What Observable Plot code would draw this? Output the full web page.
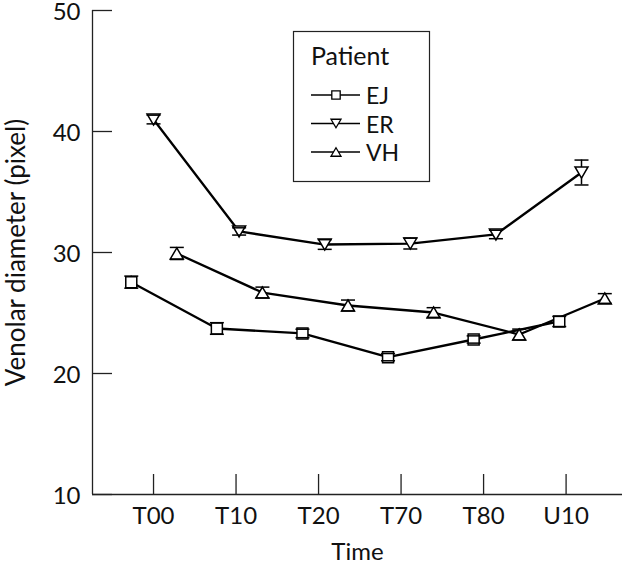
<!DOCTYPE html>
<html><head><meta charset="utf-8">
<script src="https://cdn.jsdelivr.net/npm/d3@7"></script>
<script src="https://cdn.jsdelivr.net/npm/@observablehq/plot@0.6"></script>
<style>
  body { margin: 0; background: #fff; }
  #chart { position: relative; width: 640px; height: 565px; }
  svg { display: block; }
</style>
</head><body><div id="chart"></div>
<script>
// ---- data ----
const categories = ["T00", "T10", "T20", "T70", "T80", "U10"];
const patients = ["EJ", "ER", "VH"];
const EJ = [27.55, 23.72, 23.31, 21.35, 22.81, 24.30];
const EJ_err = [0.5, 0.48, 0.35, 0.3, 0.3, 0.42];
const ER = [40.99, 31.74, 30.66, 30.74, 31.49, 36.61];
const ER_err = [0.36, 0.3, 0.4, 0.45, 0.35, 1.03];
const VH = [29.92, 26.69, 25.62, 25.04, 23.22, 26.2];
const VH_err = [0.5, 0.45, 0.45, 0.4, 0.45, 0.4];
const yTicks = [10, 20, 30, 40, 50];

// ---- layout / style ----
const values = {EJ, ER, VH};
const errors = {EJ: EJ_err, ER: ER_err, VH: VH_err};
const dodge = {EJ: -0.26, ER: 0, VH: 0.272};
const tickStep = 0.964;               // category tick spacing relative to point spacing
const xDomain = [-0.713, 5.479];
const yDomain = [10, 50];
const FONT = "Lato, 'Open Sans', sans-serif";

const rows = patients.flatMap(p => categories.map((c, i) => ({
  patient: p, cat: c, x: i + dodge[p], v: values[p][i], lo: values[p][i] - errors[p][i], hi: values[p][i] + errors[p][i]
})));

function rOf(size) { return Math.sqrt(size / Math.PI); }
const symSquare = {draw(ctx, size) { const r = rOf(size); ctx.moveTo(-r, -r); ctx.lineTo(r, -r); ctx.lineTo(r, r); ctx.lineTo(-r, r); ctx.closePath(); }};
const symTriUp = {draw(ctx, size) { const r = rOf(size), h = r * 0.85; ctx.moveTo(0, -h); ctx.lineTo(r, h); ctx.lineTo(-r, h); ctx.closePath(); }};
const symTriDown = {draw(ctx, size) { const r = rOf(size), h = r * 0.85; ctx.moveTo(0, h); ctx.lineTo(r, -h); ctx.lineTo(-r, -h); ctx.closePath(); }};
const symCap = {draw(ctx, size) { const r = rOf(size); ctx.moveTo(-r, 0); ctx.lineTo(r, 0); }};
const symbols = {EJ: symSquare, ER: symTriDown, VH: symTriUp};
const symR = {EJ: 5.5, ER: 6.5, VH: 6.5};

const tickPos = categories.map((c, i) => i * tickStep);

const plot = Plot.plot({
  width: 640, height: 565,
  marginLeft: 92, marginRight: 18, marginTop: 10, marginBottom: 71,
  style: {fontFamily: FONT, fontSize: "24px", color: "#111", background: "#fff"},
  x: {type: "linear", domain: xDomain},
  y: {domain: yDomain},
  marks: [
    Plot.ruleY([yDomain[0]], {stroke: "#222", strokeWidth: 1.3}),
    Plot.ruleX([xDomain[0]], {stroke: "#222", strokeWidth: 1.3}),
    // x axis: ticks pointing up (inside), labels below
    Plot.axisX({ticks: tickPos, tickSize: -20, tickFormat: () => "", label: null, stroke: "#222", strokeWidth: 1.3}),
    Plot.axisX({ticks: tickPos, tickSize: 0, tickPadding: 12, tickFormat: v => categories[Math.round(v / tickStep)],
      fontSize: 24, label: "Time", labelAnchor: "center", labelArrow: "none", labelOffset: 65}),
    // y axis: ticks pointing right (inside), labels left
    Plot.axisY({ticks: yTicks, tickSize: -20, tickFormat: () => "", label: null, stroke: "#222", strokeWidth: 1.3}),
    Plot.axisY({ticks: yTicks, tickSize: 0, tickPadding: 12, fontSize: 24, dy: 2,
      label: "Venolar diameter (pixel)", labelAnchor: "center", labelArrow: "none", labelOffset: 86}),
    Plot.line(rows, {x: "x", y: "v", z: "patient", stroke: "black", strokeWidth: 2.3}),
    Plot.ruleX(rows, {x: "x", y1: "lo", y2: "hi", stroke: "black", strokeWidth: 1.5}),
    ...patients.map(p => Plot.dot(rows.filter(d => d.patient === p), {
      x: "x", y: "v", symbol: symbols[p], r: symR[p], fill: "white", stroke: "black", strokeWidth: 1.5
    })),
    Plot.dot(rows, {x: "x", y: "lo", symbol: symCap, r: 7, stroke: "black", strokeWidth: 1.5}),
    Plot.dot(rows, {x: "x", y: "hi", symbol: symCap, r: 7, stroke: "black", strokeWidth: 1.5})
  ]
});
document.getElementById("chart").appendChild(plot);

// enlarge the y-axis title slightly to match the reference length
d3.select(plot).selectAll("g[aria-label='y-axis label'] text").attr("font-size", 26);

// ---- legend box inside the plot ----
const svg = d3.select(plot);
const lg = svg.append("g").attr("font-family", FONT).attr("fill", "#111").attr("text-anchor", "start");
lg.append("rect").attr("x", 293.5).attr("y", 31.5).attr("width", 136).attr("height", 150)
  .attr("fill", "white").attr("stroke", "#222").attr("stroke-width", 1.2);
lg.append("text").attr("x", 311).attr("y", 65).attr("font-size", 25).text("Patient");
const legSym = {EJ: d3.symbol(symSquare, Math.PI * 4.2 * 4.2), ER: d3.symbol(symTriDown, Math.PI * 5 * 5), VH: d3.symbol(symTriUp, Math.PI * 5 * 5)};
patients.forEach((p, k) => {
  const cy = 95 + k * 28.5;
  lg.append("line").attr("x1", 311).attr("x2", 360).attr("y1", cy).attr("y2", cy)
    .attr("stroke", "black").attr("stroke-width", 1.6);
  lg.append("path").attr("d", legSym[p]()).attr("transform", `translate(336,${cy})`)
    .attr("fill", "white").attr("stroke", "black").attr("stroke-width", 1.3);
  lg.append("text").attr("x", 366).attr("y", cy + 9).attr("font-size", 23).text(p);
});
</script></body></html>
